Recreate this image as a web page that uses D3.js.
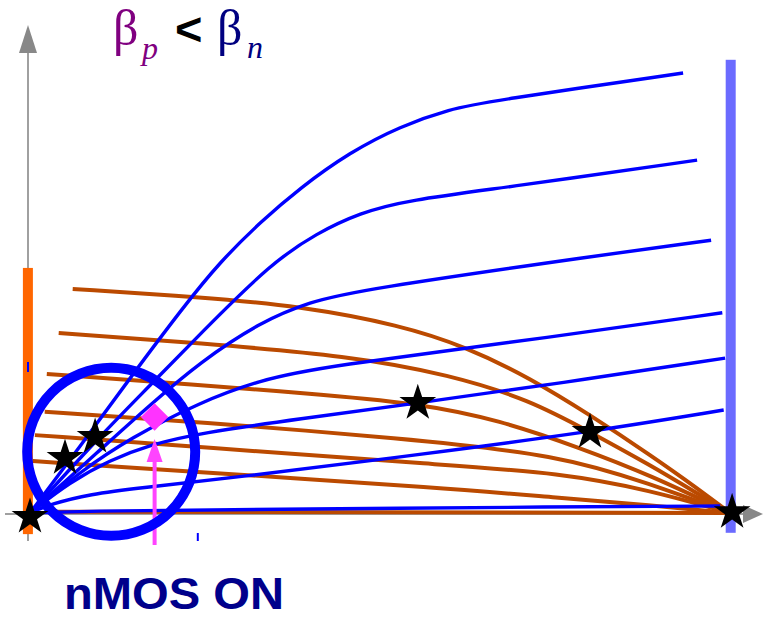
<!DOCTYPE html>
<html>
<head>
<meta charset="utf-8">
<script src="https://cdn.jsdelivr.net/npm/d3@7"></script>
<style>
  body { margin: 0; background: #fff; }
  svg { display: block; }
</style>
</head>
<body>
<figure id="chart" style="margin:0"></figure>
<script>
// nMOS curves, [Vds %, Id %]
const nmosA = [[0,0],[7.1,15.0],[14.3,30.7],[21.9,46.8],[27.1,57.0],[32.9,66.1],[38.6,73.9],[45.7,82.0],[52.9,87.9],[60.0,91.8],[65.7,93.6],[93.3,100.0]];
const nmosB = [[0,0],[10.0,17.5],[17.1,28.9],[24.3,40.7],[34.6,57.0],[41.0,63.6],[47.1,68.2],[53.9,71.1],[68.6,74.1],[95.3,80.2]];
const nmosC = [[0,0],[10.0,14.3],[17.1,24.5],[24.3,34.3],[32.9,43.4],[40.0,48.0],[47.1,50.7],[81.4,58.6],[97.3,62.0]];
const nmosD = [[0,0],[7.1,9.3],[14.3,17.0],[24.3,25.2],[32.9,30.2],[41.4,33.2],[75.7,40.2],[98.9,45.5]];
const nmosE = [[0,0],[5.7,7.0],[11.4,12.0],[17.1,15.5],[24.3,18.2],[38.6,21.4],[55.4,25.0],[75.7,29.5],[99.3,35.2]];
const nmosF = [[0,0],[2.9,2.0],[8.6,4.3],[15.7,5.7],[29.0,8.0],[55.4,13.2],[80.0,18.4],[99.1,23.4]];
const nmosG = [[0,0],[10.0,0.5],[38.6,0.9],[75.7,1.4],[98.6,1.6]];
const nmosOff = [[0,0],[100,0]];

// pMOS curves
const pmos1 = [[6.1,50.9],[24.3,49.1],[38.6,47.0],[52.9,42.7],[62.4,37.7],[71.4,30.7],[80.0,22.3],[88.6,13.2],[95.7,5.2],[100,0]];
const pmos2 = [[4.1,40.9],[24.3,38.6],[45.7,35.7],[60.0,31.4],[71.4,25.7],[80.0,18.4],[88.6,10.9],[95.7,4.1],[100,0]];
const pmos3 = [[2.4,31.6],[24.3,29.1],[38.6,27.3],[55.4,25.0],[67.1,21.1],[78.6,14.8],[88.6,8.6],[100,0]];
const pmos4 = [[2.1,23.0],[24.3,20.7],[52.9,17.0],[75.7,13.2],[88.6,6.6],[100,0]];
const pmos5 = [[0.7,17.7],[24.3,15.0],[59.3,10.9],[75.7,9.1],[88.6,5.2],[100,0]];
const pmos6 = [[0.4,11.8],[24.3,9.3],[59.3,5.7],[75.7,3.4],[88.6,1.8],[100,0]];
const pmos7 = [[3.5,0.3],[100,0]];

const nmosCurves = [nmosA, nmosB, nmosC, nmosD, nmosE, nmosF, nmosG];
const pmosCurves = [pmos1, pmos2, pmos3, pmos4, pmos5, pmos6, pmos7];

// operating points (stars)
const opPoints = [[0,-0.9],[5.0,12.5],[9.3,17.3],[55.4,25.0],[80.0,18.4],[100.3,0.2]];

// supply bars: [Vds, Id bottom, Id top]
const vinBar = [-0.3, -4.8, 55.7];
const vddBar = [100.1, -4.5, 103.0];

const width = 763, height = 619;

const svg = d3.select("#chart").append("svg")
  .attr("width", width)
  .attr("height", height);

const x = d3.scaleLinear().domain([0, 100]).range([30, 730]);
const y = d3.scaleLinear().domain([0, 100]).range([513, 73]);

// axes
const axisCol = "#a0a0a0";
const ax0 = x(0) - 2, ay0 = y(0) + 1;
svg.append("line").attr("x1", ax0).attr("x2", ax0).attr("y1", 541).attr("y2", 48)
  .attr("stroke", axisCol).attr("stroke-width", 2);
svg.append("path").attr("d", `M${ax0},25 L${ax0 - 9},53 L${ax0 + 9},53 Z`).attr("fill", "#888");
svg.append("line").attr("x1", 5).attr("x2", 745).attr("y1", ay0).attr("y2", ay0)
  .attr("stroke", axisCol).attr("stroke-width", 2);
svg.append("path").attr("d", `M763,${ay0} L743,${ay0 - 9} L743,${ay0 + 9} Z`).attr("fill", "#888");

// bars
svg.append("rect")
  .attr("x", x(vinBar[0]) - 5).attr("width", 10)
  .attr("y", y(vinBar[2])).attr("height", y(vinBar[1]) - y(vinBar[2]))
  .attr("fill", "#ff6600");
svg.append("rect")
  .attr("x", x(vddBar[0]) - 5).attr("width", 10)
  .attr("y", y(vddBar[2])).attr("height", y(vddBar[1]) - y(vddBar[2]))
  .attr("fill", "#6b6bff");

// small blue tick marks
const xTick = svg.append("g").attr("transform", "translate(0,533)")
  .call(d3.axisBottom(x).tickValues([23.9]).tickSize(8).tickFormat(""));
xTick.select(".domain").remove();
xTick.selectAll("line").attr("stroke", "#0000ff").attr("stroke-width", 2);
svg.append("line").attr("x1", ax0).attr("x2", ax0).attr("y1", y(33.2) - 5).attr("y2", y(33.2) + 5)
  .attr("stroke", "#0000ff").attr("stroke-width", 2);

const line = d3.line().x(d => x(d[0])).y(d => y(d[1])).curve(d3.curveBasis);

svg.append("path").datum(nmosOff).attr("d", line)
  .attr("fill", "none").attr("stroke", "#6b6bff").attr("stroke-width", 2);

svg.selectAll("path.pmos").data(pmosCurves).enter().append("path")
  .attr("class", "pmos")
  .attr("d", line)
  .attr("fill", "none").attr("stroke", "#bb4a00").attr("stroke-width", 4);

svg.selectAll("path.nmos").data(nmosCurves).enter().append("path")
  .attr("class", "nmos")
  .attr("d", line)
  .attr("fill", "none").attr("stroke", "#0000ff").attr("stroke-width", 3.4);

// nMOS ON marker
const onPt = [17.8, 21.8];
svg.append("path")
  .attr("d", d3.symbol(d3.symbolDiamond2, 480))
  .attr("transform", `translate(${x(onPt[0])},${y(onPt[1])})`)
  .attr("fill", "#ff33ff");
svg.append("line").attr("x1", x(onPt[0])).attr("x2", x(onPt[0]))
  .attr("y1", 545).attr("y2", 458)
  .attr("stroke", "#ff44ff").attr("stroke-width", 4);
svg.append("path")
  .attr("d", `M${x(onPt[0])},439 L${x(onPt[0]) - 8},462 L${x(onPt[0]) + 8},462 Z`)
  .attr("fill", "#ff44ff");

svg.append("circle")
  .attr("cx", x(11.6)).attr("cy", y(13.9)).attr("r", 84)
  .attr("fill", "none").attr("stroke", "#0000ff").attr("stroke-width", 10);

// stars
svg.selectAll("path.star").data(opPoints).enter().append("path")
  .attr("class", "star")
  .attr("d", d3.symbol(d3.symbolStar, 420))
  .attr("transform", d => `translate(${x(d[0])},${y(d[1])})`)
  .attr("fill", "#000");

// title
const title = svg.append("text");
title.append("tspan").attr("x", 113).attr("y", 45)
  .attr("font-family", "Liberation Serif").attr("font-size", 50)
  .attr("fill", "#800080").text("β");
title.append("tspan").attr("x", 142).attr("y", 59)
  .attr("font-family", "Liberation Serif").attr("font-style", "italic")
  .attr("font-size", 32).attr("fill", "#800080").text("p");
title.append("tspan").attr("x", 175).attr("y", 45)
  .attr("font-family", "Liberation Sans").attr("font-weight", "bold")
  .attr("font-size", 47).attr("fill", "#000").text("<");
title.append("tspan").attr("x", 217).attr("y", 45)
  .attr("font-family", "Liberation Serif").attr("font-size", 50)
  .attr("fill", "#000080").text("β");
title.append("tspan").attr("x", 247).attr("y", 58)
  .attr("font-family", "Liberation Serif").attr("font-style", "italic")
  .attr("font-size", 32).attr("fill", "#000080").text("n");

svg.append("text")
  .attr("x", 64).attr("y", 609)
  .attr("font-family", "Liberation Sans").attr("font-weight", "bold")
  .attr("font-size", 45).attr("fill", "#00008b")
  .attr("textLength", 220).attr("lengthAdjust", "spacingAndGlyphs")
  .text("nMOS ON");
</script>
</body>
</html>
